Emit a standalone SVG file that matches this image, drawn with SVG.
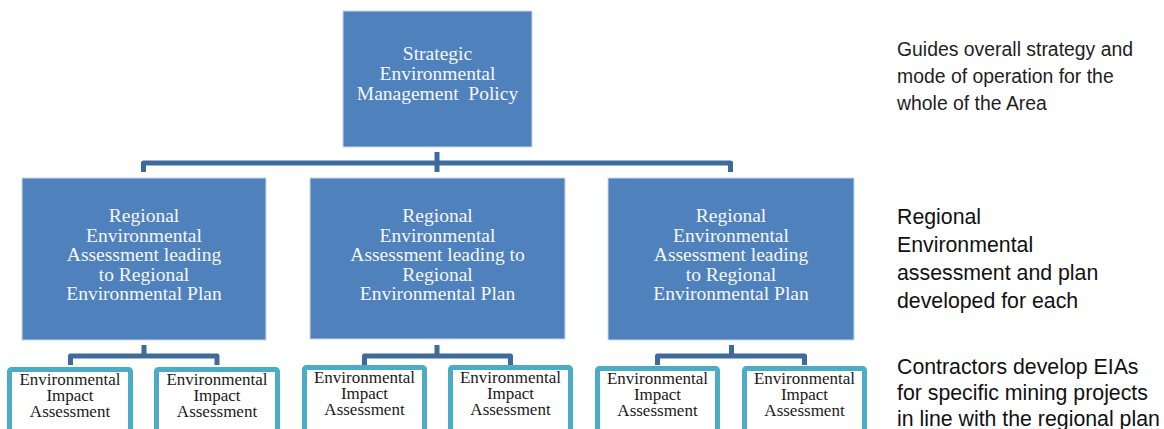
<svg xmlns="http://www.w3.org/2000/svg" width="1164" height="429" viewBox="0 0 1164 429">
<style>
.blue{fill:#4F81BD;stroke:#C9D8EC;stroke-width:1}
.eia{fill:#FFFFFF;stroke:#4BACC6;stroke-width:5}
.conn{fill:none;stroke:#3E6A9C;stroke-width:5;stroke-linejoin:round;stroke-linecap:butt}
.bt{font-family:"Liberation Serif",serif;font-size:19.5px;fill:#F4F7FB;text-anchor:middle}
.et{font-family:"Liberation Serif",serif;font-size:17px;fill:#1A1A1A;text-anchor:middle}
.n1{font-family:"Liberation Sans",Arial,sans-serif;font-size:19.4px;fill:#1E1E1E}
.n2{font-family:"Liberation Sans",Arial,sans-serif;font-size:21.3px;fill:#111111}
</style>
<rect width="1164" height="429" fill="#FFFFFF"/>
<g id="connectors">
<path class="conn" d="M437 152V172"/>
<path class="conn" d="M143.5 172V163H730.5V172"/>
<path class="conn" d="M144 345V356"/>
<path class="conn" d="M70.5 365V356H217V365"/>
<path class="conn" d="M437 345V356"/>
<path class="conn" d="M364.5 365V356H510.5V365"/>
<path class="conn" d="M731.5 345V356"/>
<path class="conn" d="M657.5 365V356H804.5V365"/>
</g>
<g id="strategic">
<rect class="blue" x="343" y="11" width="189" height="136"/>
<text class="bt" x="437.5" y="60">Strategic</text>
<text class="bt" x="437.5" y="80">Environmental</text>
<text class="bt" x="437.5" y="99.5" xml:space="preserve">Management  Policy</text>
</g>
<g id="regional1">
<rect class="blue" x="22" y="178" width="244" height="162"/>
<text class="bt" x="144" y="222">Regional</text>
<text class="bt" x="144" y="241.6">Environmental</text>
<text class="bt" x="144" y="261.2">Assessment leading</text>
<text class="bt" x="144" y="280.8">to Regional</text>
<text class="bt" x="144" y="300.4">Environmental Plan</text>
</g>
<g id="regional2">
<rect class="blue" x="310" y="178" width="255" height="161"/>
<text class="bt" x="437.5" y="222">Regional</text>
<text class="bt" x="437.5" y="241.6">Environmental</text>
<text class="bt" x="437.5" y="261.2">Assessment leading to</text>
<text class="bt" x="437.5" y="280.8">Regional</text>
<text class="bt" x="437.5" y="300.4">Environmental Plan</text>
</g>
<g id="regional3">
<rect class="blue" x="608" y="178" width="246" height="162"/>
<text class="bt" x="731" y="222">Regional</text>
<text class="bt" x="731" y="241.6">Environmental</text>
<text class="bt" x="731" y="261.2">Assessment leading</text>
<text class="bt" x="731" y="280.8">to Regional</text>
<text class="bt" x="731" y="300.4">Environmental Plan</text>
</g>
<g id="eia1a">
<rect class="eia" x="9.5" y="369.5" width="121" height="75" rx="2"/>
<text class="et" x="70" y="385">Environmental</text>
<text class="et" x="70" y="401">Impact</text>
<text class="et" x="70" y="417">Assessment</text>
</g>
<g id="eia1b">
<rect class="eia" x="156.5" y="369.5" width="121" height="75" rx="2"/>
<text class="et" x="217" y="385">Environmental</text>
<text class="et" x="217" y="401">Impact</text>
<text class="et" x="217" y="417">Assessment</text>
</g>
<g id="eia2a">
<rect class="eia" x="304.5" y="367.5" width="120" height="75" rx="2"/>
<text class="et" x="364.5" y="383">Environmental</text>
<text class="et" x="364.5" y="399">Impact</text>
<text class="et" x="364.5" y="415">Assessment</text>
</g>
<g id="eia2b">
<rect class="eia" x="450.5" y="367.5" width="120" height="75" rx="2"/>
<text class="et" x="510.5" y="383">Environmental</text>
<text class="et" x="510.5" y="399">Impact</text>
<text class="et" x="510.5" y="415">Assessment</text>
</g>
<g id="eia3a">
<rect class="eia" x="597.5" y="368.5" width="120" height="75" rx="2"/>
<text class="et" x="657.5" y="384">Environmental</text>
<text class="et" x="657.5" y="400">Impact</text>
<text class="et" x="657.5" y="416">Assessment</text>
</g>
<g id="eia3b">
<rect class="eia" x="744.5" y="368.5" width="120" height="75" rx="2"/>
<text class="et" x="804.5" y="384">Environmental</text>
<text class="et" x="804.5" y="400">Impact</text>
<text class="et" x="804.5" y="416">Assessment</text>
</g>
<g id="notes">
<text class="n1" x="897" y="56">Guides overall strategy and</text>
<text class="n1" x="897" y="83">mode of operation for the</text>
<text class="n1" x="897" y="110">whole of the Area</text>
<text class="n2" x="897" y="224">Regional</text>
<text class="n2" x="897" y="252">Environmental</text>
<text class="n2" x="897" y="280">assessment and plan</text>
<text class="n2" x="897" y="308">developed for each</text>
<text class="n2" x="897" y="373.5">Contractors develop EIAs</text>
<text class="n2" x="897" y="400">for specific mining projects</text>
<text class="n2" x="897" y="426">in line with the regional plan</text>
</g>
</svg>
